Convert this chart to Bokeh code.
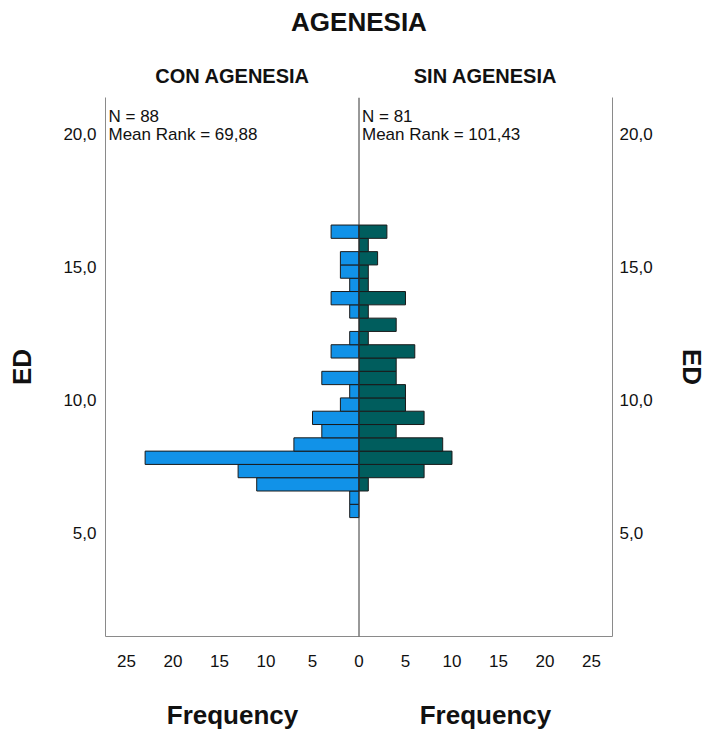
from bokeh.plotting import figure
from bokeh.models import (Range1d, LinearAxis, FixedTicker, Span, Label, ColumnDataSource)
from bokeh.embed import file_html
from bokeh.resources import INLINE

# ---- data ----
ed_bin_centers = [5.82, 6.32, 6.82, 7.32, 7.82, 8.32, 8.82, 9.32, 9.82, 10.32, 10.82,
                  11.32, 11.82, 12.32, 12.82, 13.32, 13.82, 14.32, 14.82, 15.32, 15.82, 16.32]
bin_height = 0.5
con_counts = [1, 1, 11, 13, 23, 7, 4, 5, 2, 1, 4, 0, 3, 1, 0, 1, 3, 1, 2, 2, 0, 3]
sin_counts = [0, 0, 1, 7, 10, 9, 4, 7, 5, 5, 4, 4, 6, 1, 4, 1, 5, 1, 1, 2, 1, 3]
groups = ["CON AGENESIA", "SIN AGENESIA"]
group_n = [88, 81]
mean_ranks = ["69,88", "101,43"]
y_ticks = [5, 10, 15, 20]
y_tick_labels = ["5,0", "10,0", "15,0", "20,0"]
x_ticks = [-25, -20, -15, -10, -5, 0, 5, 10, 15, 20, 25]
title = "AGENESIA"
y_title = "ED"
x_title = "Frequency"

BLUE = "#1192e8"
TEAL = "#005d5d"
FONT = "Liberation Sans"

p = figure(width=710, height=733, output_backend="svg", toolbar_location=None,
           x_range=Range1d(-27.26, 27.26), y_range=Range1d(1.10, 21.365),
           min_border_left=105, min_border_right=98, min_border_top=97, min_border_bottom=97,
           x_axis_location=None, y_axis_location=None)
p.outline_line_color = None
p.xgrid.visible = False
p.ygrid.visible = False
p.background_fill_color = "white"
p.border_fill_color = "white"

# bars
con_src = ColumnDataSource(dict(
    y=[c for c, v in zip(ed_bin_centers, con_counts) if v > 0],
    left=[-v for v in con_counts if v > 0]))
sin_src = ColumnDataSource(dict(
    y=[c for c, v in zip(ed_bin_centers, sin_counts) if v > 0],
    right=[v for v in sin_counts if v > 0]))
p.hbar(y="y", left="left", right=0, height=bin_height, source=con_src,
       fill_color=BLUE, line_color="#1a1a1a", line_width=1)
p.hbar(y="y", left=0, right="right", height=bin_height, source=sin_src,
       fill_color=TEAL, line_color="#1a1a1a", line_width=1)

p.add_layout(Span(location=0, dimension="height", line_color="#333333", line_width=1))

def style_axis(ax, size="17px"):
    ax.major_tick_line_color = None
    ax.minor_tick_line_color = None
    ax.major_tick_out = 0
    ax.major_tick_in = 0
    ax.minor_tick_out = 0
    ax.major_label_text_font = FONT
    ax.major_label_text_font_size = size
    ax.major_label_text_color = "#111111"
    ax.axis_label_text_font = FONT
    ax.axis_label_text_font_size = "26px"
    ax.axis_label_text_font_style = "bold"
    ax.axis_label_text_color = "#111111"

# y axes
y_over = {t: l for t, l in zip(y_ticks, y_tick_labels)}
yl = LinearAxis(ticker=FixedTicker(ticks=y_ticks), major_label_overrides=y_over,
                axis_label=y_title)
style_axis(yl)
yl.axis_line_color = "#8a8a8a"
yl.major_label_standoff = 9
yl.axis_label_standoff = 23
p.add_layout(yl, "left")

yr = LinearAxis(ticker=FixedTicker(ticks=y_ticks), major_label_overrides=y_over,
                axis_label=y_title)
style_axis(yr)
yr.axis_line_color = "#8a8a8a"
yr.major_label_standoff = 7
yr.axis_label_standoff = 21
p.add_layout(yr, "right")

# x axis (frequency, absolute values)
x_over = {t: str(abs(t)) for t in x_ticks}
xb = LinearAxis(ticker=FixedTicker(ticks=x_ticks), major_label_overrides=x_over)
style_axis(xb)
xb.axis_line_color = "#8a8a8a"
xb.major_label_standoff = 18
p.add_layout(xb, "below")

# "Frequency" titles under each half
fb = LinearAxis(ticker=FixedTicker(ticks=[-13.6, 13.6]),
                major_label_overrides={-13.6: x_title, 13.6: x_title})
style_axis(fb, "26px")
fb.major_label_text_font_style = "bold"
fb.axis_line_color = None
fb.major_label_standoff = 30
p.add_layout(fb, "below")

# group titles above and overall title
ga = LinearAxis(ticker=FixedTicker(ticks=[-13.6, 13.6]),
                major_label_overrides={-13.6: groups[0], 13.6: groups[1]},
                axis_label=title)
style_axis(ga, "20px")
ga.major_label_text_font_style = "bold"
ga.axis_line_color = None
ga.major_label_standoff = 11
ga.axis_label_standoff = 25
p.add_layout(ga, "above")

# N / Mean Rank annotations
x_starts = [-27.26, 0]
for xs, n, mr in zip(x_starts, group_n, mean_ranks):
    for yy, txt in [(20.65, f"N = {n}"), (19.97, f"Mean Rank = {mr}")]:
        p.add_layout(Label(x=xs, y=yy, x_offset=3, text=txt, text_font=FONT,
                           text_font_size="17px", text_baseline="middle",
                           text_color="#111111"))

open("out.html", "w").write(file_html(p, INLINE))
